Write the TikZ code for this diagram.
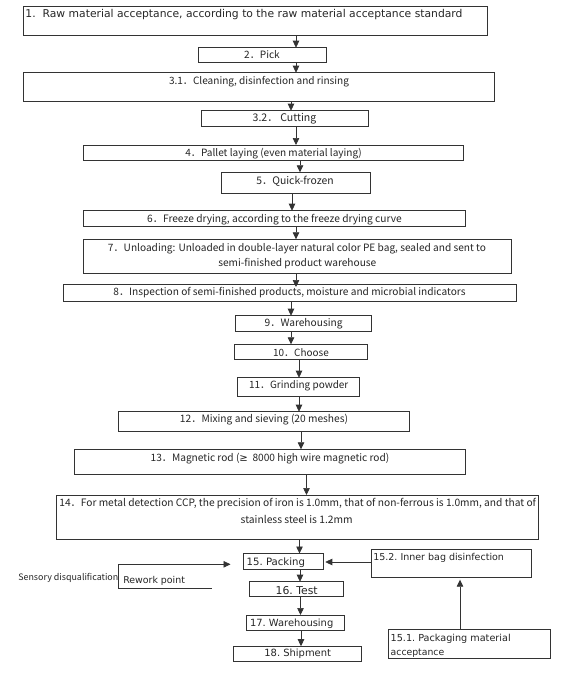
\documentclass[tikz,border=0pt]{standalone}
\usepackage{fontspec}
\setmainfont{Noto Sans CJK SC}
\newfontfamily\dvs{DejaVu Sans}
\usetikzlibrary{arrows.meta}
\newcommand\fw[2]{\resizebox{#1pt}{!}{#2}}
\newcommand\bx[5]{\node[box, minimum width={(#4-#2)*1pt}, minimum height={(#5-#3)*1pt}] (#1) at ({(#2+#4)/2},{(#3+#5)/2}) {};}
\tikzset{
  box/.style={draw=black!80, line width=0.7pt, inner sep=0pt, outer sep=0pt, rectangle},
  txt/.style={inner sep=0pt, outer sep=0pt, text=black!85},
  arr/.style={draw=black!80, line width=0.7pt, -{Triangle[width=6.5pt,length=7pt]}},
  ln/.style={draw=black!80, line width=0.7pt}
}
\begin{document}
\begin{tikzpicture}[x=1pt,y=-1pt]
\useasboundingbox[fill=white] (0,0) rectangle (570,673);
% boxes
\bx{b1}{23.6}{6.7}{487}{35.7}
\bx{b2}{198.5}{47.7}{326}{62.3}
\bx{b31}{23.6}{72.7}{494.5}{101.7}
\bx{b32}{201}{110.7}{368}{126}
\bx{b4}{83.6}{145}{463}{160.7}
\bx{b5}{221}{172.3}{370}{193.3}
\bx{b6}{83.6}{210.7}{465.5}{226}
\bx{b7}{83.6}{239.3}{511}{273.3}
\bx{b8}{63.6}{284}{516}{301.7}
\bx{b9}{235.6}{315.7}{371.6}{331}
\bx{b10}{234.5}{344.3}{367}{359.3}
\bx{b11}{237.5}{377.7}{359}{396}
\bx{b12}{118}{411.7}{409}{431}
\bx{b13}{74}{449.3}{465}{474.3}
\bx{b14}{56.5}{495}{538}{539.3}
\bx{b15}{243.3}{553.5}{323.3}{569}
\bx{b16}{249}{581.7}{343.3}{596.7}
\bx{b17}{246.7}{615}{344}{630}
\bx{b18}{233.3}{646.2}{361.7}{661.2}
\bx{b152}{371}{549.3}{531.7}{577.7}
\bx{b151}{388.5}{629.3}{550}{658}
% texts
\node[txt,anchor=west] (t1) at (25.5,15) {\fw{437}{\dvs 1.\ \ Raw material acceptance, according to the raw material acceptance standard}};
\node[txt] (t2) at (262,55) {\fw{35.6}{2．Pick}};
\node[txt] (t31) at (259,81.7) {\fw{180}{3.1．Cleaning, disinfection and rinsing}};
\node[txt] (t32) at (284.5,118.3) {\fw{63.6}{3.2．\ Cutting}};
\node[txt] (t4) at (273.6,154) {\fw{176.4}{4．Pallet laying (even material laying)}};
\node[txt] (t5) at (295,181.3) {\fw{77.5}{5．Quick-frozen}};
\node[txt] (t6) at (274.5,219.3) {\fw{254.5}{6．Freeze drying, according to the freeze drying curve}};
\node[txt] (t7a) at (297,248.3) {\fw{378}{7．Unloading: Unloaded in double-layer natural color PE bag, sealed and sent to}};
\node[txt] (t7b) at (297.3,263.3) {\fw{158}{semi-finished product warehouse}};
\node[txt] (t8) at (289.5,292.3) {\fw{352}{8．Inspection of semi-finished products, moisture and microbial indicators}};
\node[txt] (t9) at (303.6,324) {\fw{77.8}{9．Warehousing}};
\node[txt] (t10) at (301,352.3) {\fw{55.6}{10．Choose}};
\node[txt] (t11) at (298.7,386) {\fw{99.3}{11．Grinding powder}};
\node[txt] (t12) at (264,420) {\fw{168}{12．Mixing and sieving (20 meshes)}};
\node[txt] (t13) at (270,458.3) {\fw{238.7}{13．Magnetic rod ({\dvs ≥}\ \ 8000 high wire magnetic rod)}};
\node[txt] (t14a) at (297.7,504) {\fw{476.7}{14．For metal detection CCP, the precision of iron is 1.0mm, that of non-ferrous is 1.0mm, and that of}};
\node[txt] (t14b) at (296.7,519) {\fw{112}{stainless steel is 1.2mm}};
\node[txt,anchor=west] (t15) at (246.7,562.5) {\fw{58.3}{\dvs 15.\ Packing}};
\node[txt] (t16) at (296.7,590.7) {\fw{42}{\dvs 16.\ Test}};
\node[txt,anchor=west] (t17) at (250,624) {\fw{83.3}{\dvs 17.\ Warehousing}};
\node[txt] (t18) at (297.7,654) {\fw{66.7}{\dvs 18.\ Shipment}};
\node[txt,anchor=west] (t152) at (373.3,558.3) {\fw{130.7}{\dvs 15.2.\ Inner bag disinfection}};
\node[txt,anchor=west] (t151a) at (390.7,639) {\fw{120}{\dvs 15.1.\ Packaging material}};
\node[txt,anchor=west] (t151b) at (390.7,653.3) {\fw{53.6}{\dvs acceptance}};
\node[txt,anchor=west] (sens) at (18.3,577.7) {\fw{100}{Sensory disqualification}};
\node[txt,anchor=west] (rw) at (123.3,580.5) {\fw{61.7}{\dvs Rework point}};
% main arrows
\draw[arr] (b1.south -| 296,0) -- (b2.north -| 296,0);
\draw[arr] (b2.south -| 296,0) -- (b31.north -| 296,0);
\draw[arr] (b31.south -| 291,0) -- (b32.north -| 291,0);
\draw[arr] (b32.south -| 296,0) -- (b4.north -| 296,0);
\draw[arr] (b4.south -| 300,0) -- (b5.north -| 300,0);
\draw[arr] (b5.south -| 292,0) -- (b6.north -| 292,0);
\draw[arr] (b6.south -| 296,0) -- (b7.north -| 296,0);
\draw[arr] (b7.south -| 296,0) -- ([yshift=-3pt]b8.north -| 296,0);
\draw[arr] (b8.south -| 291,0) -- (b9.north -| 291,0);
\draw[arr] (b9.south -| 291,0) -- (b10.north -| 291,0);
\draw[arr] (b10.south -| 299,0) -- (b11.north -| 299,0);
\draw[arr] (b11.south -| 299,0) -- (b12.north -| 299,0);
\draw[arr] (b12.south -| 301,0) -- (b13.north -| 301,0);
\draw[arr] (b13.south -| 306.5,0) -- (b14.north -| 306.5,0);
\draw[arr] (b14.south -| 299.5,0) -- (b15.north -| 299.5,0);
\draw[arr] (b15.south -| 300,0) -- (b16.north -| 300,0);
\draw[arr] (b16.south -| 300.5,0) -- (b17.north -| 300.5,0);
\draw[arr] (b17.south -| 301,0) -- (b18.north -| 301,0);
% side arrows
\draw[arr] (b151.north -| 460,0) -- ([yshift=-2pt]b152.south -| 460,0);
\draw[arr] (b152.west |- 0,562) -- ([xshift=2pt]b15.east |- 0,562);
% rework
\coordinate (rwa) at (211.7,588.3);
\coordinate (rwb) at (118.3,588.3);
\coordinate (rwc) at (118.3,564.3);
\coordinate (rwtip) at (230.5,564.3);
\draw[ln] (rwa) -- (rwb) -- (rwc);
\draw[arr] (rwc) -- (rwtip);
\end{tikzpicture}
\end{document}
